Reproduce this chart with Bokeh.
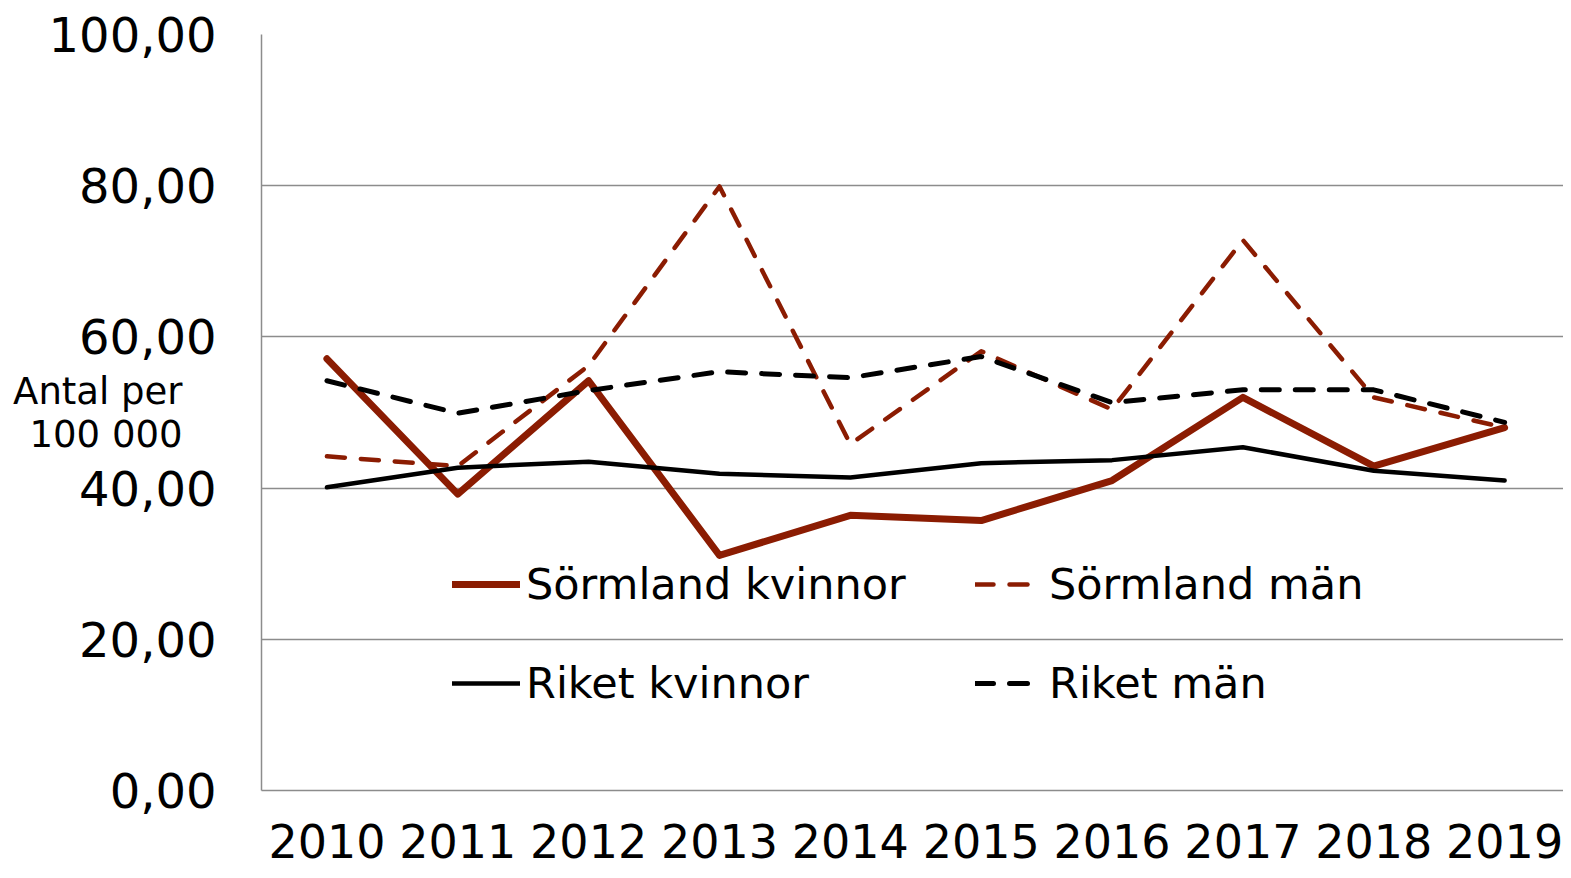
from bokeh.plotting import figure
from bokeh.models import FixedTicker, Legend, LegendItem, Range1d
from bokeh.embed import file_html
from bokeh.resources import INLINE

years = ["2010", "2011", "2012", "2013", "2014", "2015", "2016", "2017", "2018", "2019"]
sorm_kvinnor = [57.1, 39.2, 54.2, 31.1, 36.4, 35.7, 41.0, 52.0, 42.9, 48.0]
sorm_man = [44.2, 42.9, 56.2, 79.9, 45.8, 58.1, 50.4, 72.8, 52.0, 48.0]
riket_kvinnor = [40.1, 42.7, 43.5, 41.9, 41.4, 43.3, 43.7, 45.4, 42.3, 41.0]
riket_man = [54.2, 49.9, 52.9, 55.4, 54.6, 57.4, 51.3, 53.0, 53.0, 48.7]
y_ticks = [0, 20, 40, 60, 80, 100]
y_tick_labels = ["0,00", "20,00", "40,00", "60,00", "80,00", "100,00"]
y_title = "Antal per\n100 000"

x_idx = list(range(len(years)))

FONT = "DejaVu Sans"
RED = "#8B1C02"
GRID = "#8c8c8c"

p = figure(width=1563, height=870, x_range=Range1d(-0.5, len(years) - 0.55),
           y_range=Range1d(0, 100), output_backend="svg", toolbar_location=None,
           min_border_left=261, min_border_right=0, min_border_top=34, min_border_bottom=80)
p.outline_line_color = None
p.background_fill_color = "white"

r1 = p.line(x_idx, sorm_kvinnor, line_color=RED, line_width=7, line_join="round", line_cap="round")
r2 = p.line(x_idx, sorm_man, line_color=RED, line_width=4.5, line_dash="18 16", line_join="round", line_cap="round")
r3 = p.line(x_idx, riket_kvinnor, line_color="black", line_width=4.5, line_join="round", line_cap="round")
r4 = p.line(x_idx, riket_man, line_color="black", line_width=5, line_dash="18 16", line_join="round", line_cap="round")

p.yaxis.ticker = FixedTicker(ticks=y_ticks)
p.yaxis.major_label_overrides = {t: l for t, l in zip(y_ticks, y_tick_labels)}
p.yaxis.major_label_text_font = FONT
p.yaxis.major_label_text_font_size = "48px"
p.yaxis.major_label_text_color = "black"
p.yaxis.major_label_standoff = 39
p.yaxis.major_tick_line_color = None
p.yaxis.minor_tick_line_color = None
p.yaxis.axis_line_color = GRID
p.yaxis.axis_line_width = 1.5
p.yaxis.axis_label = y_title
p.yaxis.axis_label_orientation = "horizontal"
p.yaxis.axis_label_standoff = -137
p.yaxis.axis_label_text_font = FONT
p.yaxis.axis_label_text_font_size = "37px"
p.yaxis.axis_label_text_font_style = "normal"
p.yaxis.axis_label_text_color = "black"
p.yaxis.axis_label_text_align = "center"
p.yaxis.axis_label_text_line_height = 1.0

p.xaxis.ticker = FixedTicker(ticks=x_idx)
p.xaxis.major_label_overrides = {i: y for i, y in zip(x_idx, years)}
p.xaxis.major_label_text_font = FONT
p.xaxis.major_label_text_font_size = "46px"
p.xaxis.major_label_text_color = "black"
p.xaxis.major_label_standoff = 27
p.xaxis.major_tick_line_color = None
p.xaxis.minor_tick_line_color = None
p.xaxis.axis_line_color = GRID
p.xaxis.axis_line_width = 1.5

p.xgrid.grid_line_color = None
p.ygrid.grid_line_color = GRID
p.ygrid.grid_line_width = 1.5

legend = Legend(items=[
    LegendItem(label="Sörmland kvinnor", renderers=[r1]),
    LegendItem(label="Sörmland män", renderers=[r2]),
    LegendItem(label="Riket kvinnor", renderers=[r3]),
    LegendItem(label="Riket män", renderers=[r4]),
], location=(191, 82), ncols=2, orientation="horizontal")
legend.label_text_font = FONT
legend.label_text_font_size = "43px"
legend.label_text_color = "black"
legend.glyph_width = 68
legend.glyph_height = 40
legend.label_height = 40
legend.label_width = 400
legend.label_standoff = 6
legend.spacing = 49
legend.padding = 0
legend.margin = 0
legend.border_line_color = None
legend.background_fill_alpha = 0
p.add_layout(legend)

open("out.html", "w").write(file_html(p, INLINE))
